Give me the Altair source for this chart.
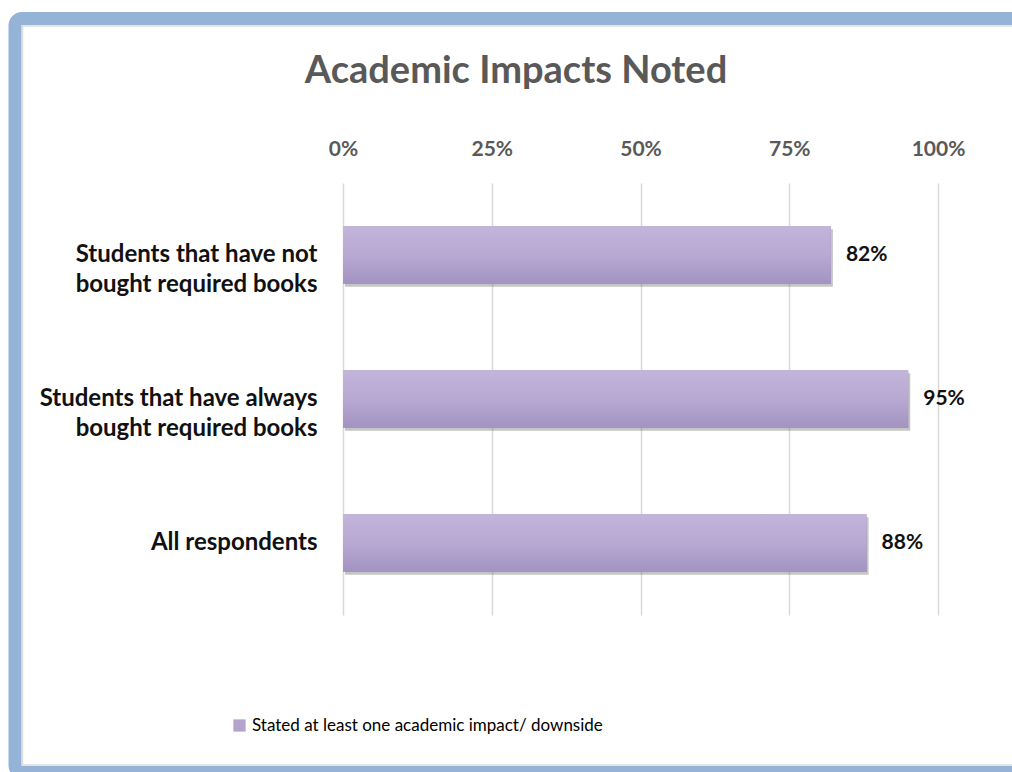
import altair as alt
import pandas as pd

categories = [
    "Students that have not|bought required books",
    "Students that have always|bought required books",
    "All respondents",
]
values = [0.82, 0.95, 0.88]
series_name = "Stated  at least one academic impact/ downside"
title_text = "Academic Impacts Noted"
x_ticks = [0, 0.25, 0.5, 0.75, 1.0]

df = pd.DataFrame({"cat": categories, "val": values, "series": [series_name] * 3})

W, H = 595, 432
PAD_L, PAD_T = 343, 183

y_enc = alt.Y(
    "cat:N",
    sort=None,
    scale=alt.Scale(paddingInner=0.6, paddingOuter=0.3),
    axis=alt.Axis(
        title=None,
        labelExpr="split(datum.value, '|')",
        labelFont="Lato",
        labelFontWeight="bold",
        labelFontSize=24,
        labelColor="#111111",
        labelLineHeight=30,
        labelPadding=26,
        labelLimit=400,
        ticks=False,
        domain=False,
        grid=False,
    ),
)
x_enc = alt.X(
    "val:Q",
    scale=alt.Scale(domain=[0, 1], nice=False),
    axis=alt.Axis(
        orient="top",
        title=None,
        values=x_ticks,
        format=".0%",
        labelFont="Lato",
        labelFontWeight="bold",
        labelFontSize=21,
        labelColor="#595959",
        labelPadding=24,
        labelFlush=False,
        ticks=False,
        domain=False,
        grid=True,
        gridColor="#d9d9d9",
        gridWidth=1.5,
    ),
)

base = alt.Chart(df)
one = pd.DataFrame({"t": [title_text]})

frame = alt.Chart(one).mark_rect(
    filled=False, stroke="#95b3d7", strokeWidth=13, cornerRadius=7, clip=False
).encode(
    x=alt.value(15 - PAD_L),
    x2=alt.value(1040 - PAD_L),
    y=alt.value(18.5 - PAD_T),
    y2=alt.value(772.5 - PAD_T),
)
inner = alt.Chart(one).mark_rect(
    filled=False, stroke="#dcdcdc", strokeWidth=1.5, clip=False
).encode(
    x=alt.value(22.5 - PAD_L),
    x2=alt.value(1040 - PAD_L),
    y=alt.value(26 - PAD_T),
    y2=alt.value(765 - PAD_T),
)

title = alt.Chart(one).mark_text(
    font="Lato", fontWeight="bold", fontSize=38, color="#595959",
    align="center", baseline="alphabetic", clip=False
).encode(
    text="t:N",
    x=alt.value(516 - PAD_L),
    y=alt.value(83 - PAD_T),
)

legend_bars = base.mark_bar().encode(
    x=x_enc,
    y=y_enc,
    color=alt.Color(
        "series:N",
        scale=alt.Scale(range=["#b3a3cd"]),
        legend=alt.Legend(
            title=None,
            orient="none",
            legendX=231 - PAD_L,
            legendY=717 - PAD_T,
            symbolType="square",
            symbolSize=150,
            symbolStrokeWidth=0,
            labelFont="Lato",
            labelFontSize=17,
            labelColor="#000000",
            labelOffset=4,
            labelLimit=600,
        ),
    ),
)

shadow = base.mark_bar(color="#6e6e6e", opacity=0.4, xOffset=2, yOffset=3).encode(
    x="val:Q", y=alt.Y("cat:N", sort=None)
)

grad = alt.Gradient(
    gradient="linear",
    stops=[
        alt.GradientStop(color="#c3b4da", offset=0),
        alt.GradientStop(color="#b8a8d3", offset=0.5),
        alt.GradientStop(color="#a393c0", offset=1),
    ],
    x1=0, x2=0, y1=0, y2=1,
)
bars = base.mark_bar(color=grad).encode(x="val:Q", y=alt.Y("cat:N", sort=None))

labels = base.mark_text(
    align="left", baseline="middle", dx=15, font="Lato", fontWeight="bold",
    fontSize=21, color="#111111"
).encode(
    x="val:Q",
    y=alt.Y("cat:N", sort=None),
    text=alt.Text("val:Q", format=".0%"),
)

chart = alt.layer(frame, inner, title, legend_bars, shadow, bars, labels).properties(
    width=W,
    height=H,
    background="white",
    padding={"left": PAD_L, "top": PAD_T, "right": 1012 - PAD_L - W, "bottom": 772 - PAD_T - H},
    autosize=alt.AutoSizeParams(type="none"),
).configure_view(strokeWidth=0, stroke="transparent")

chart.save("out.html", embed_options={"renderer": "svg", "actions": False})
